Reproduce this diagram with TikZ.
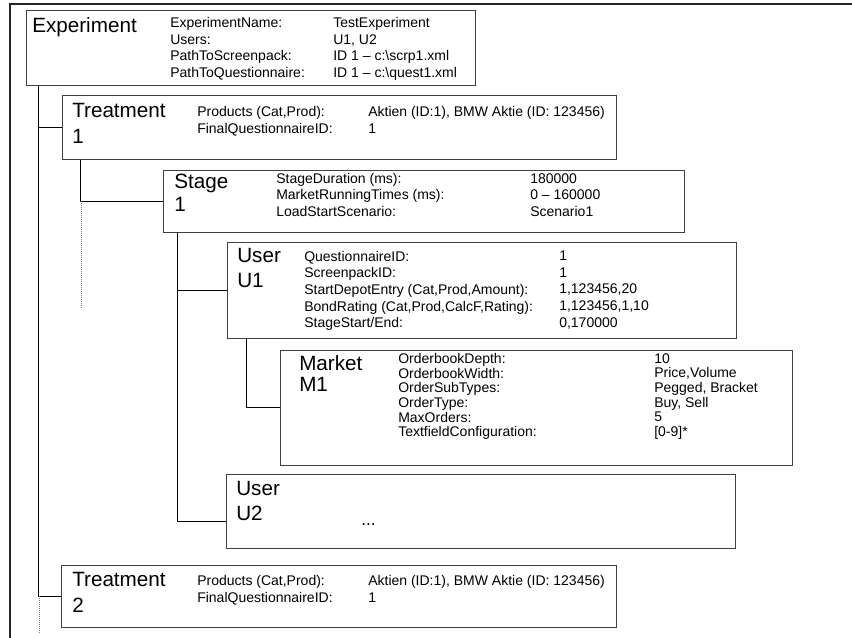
\documentclass[tikz,border=0pt]{standalone}
\usepackage{fontspec}
\setmainfont{Liberation Sans}
\usetikzlibrary{fit,calc}

\begin{document}
\begin{tikzpicture}
[x=0.75pt,y=-0.75pt,
box/.style = {draw=black!75, line width=0.75pt, inner sep=0pt},
ttl/.style = {anchor=north west, inner sep=0pt, align=left, font=\fontsize{15.5}{#1}\selectfont},
ttl/.default = 19,
lbl/.style = {anchor=north west, inner sep=0pt, align=left, font=\fontsize{10.5}{#1}\selectfont},
lbl/.default = 12.4,
tree/.style = {draw=black, line width=0.75pt},
dotline/.style = {draw=black!55, line width=0.75pt, dash pattern=on 0.75pt off 0.75pt},
]
\useasboundingbox (0,0) rectangle (852,638);
% window frame
\draw[line width=1.5pt, black!85] (852,4) -- (10,4) -- (10,638);

% boxes
\node[box, fit={(26,11) (475,86)}] (exp) {};
\node[box, fit={(62,96) (616,159)}] (tr1) {};
\node[box, fit={(163,170) (684,232)}] (stg) {};
\node[box, fit={(227,242) (736,338)}] (u1) {};
\node[box, fit={(280,350) (792,465)}] (mkt) {};
\node[box, fit={(226,474) (735,548)}] (u2) {};
\node[box, fit={(61,565) (616,627)}] (tr2) {};

% Experiment
\node[ttl] (expTtl) at (32,17.5) {Experiment};
\node[lbl=12.5] (expKey) at (170,17) {ExperimentName:\\Users:\\PathToScreenpack:\\PathToQuestionnaire:};
\node[lbl=12.5] (expVal) at (333,17) {TestExperiment\\U1, U2\\ID 1 \textendash{} c:\textbackslash scrp1.xml\\ID 1 \textendash{} c:\textbackslash quest1.xml};

% Treatment 1
\node[ttl=19.1] (tr1Ttl) at (72,103.5) {Treatment\\1};
\node[lbl=13] (tr1Key) at (197,106) {Products (Cat,Prod):\\FinalQuestionnaireID:};
\node[lbl=13] (tr1Val) at (368,106) {Aktien (ID:1), BMW Aktie (ID: 123456)\\1};

% Stage 1
\node[ttl=17.25] (stgTtl) at (174,173.5) {Stage\\1};
\node[lbl=12.4] (stgKey) at (276,173) {StageDuration (ms):\\MarketRunningTimes (ms):\\LoadStartScenario:};
\node[lbl=12.4] (stgVal) at (530,173) {180000\\0 \textendash{} 160000\\Scenario1};

% User U1
\node[ttl=18.75] (u1Ttl) at (237,248.5) {User\\U1};
\node[lbl=12.4] (u1Key) at (304,251) {QuestionnaireID:\\ScreenpackID:\\StartDepotEntry (Cat,Prod,Amount):\\BondRating (Cat,Prod,CalcF,Rating):\\StageStart/End:};
\node[lbl=12.4] (u1Val) at (559,251) {1\\1\\1,123456,20\\1,123456,1,10\\0,170000};

% Market M1
\node[ttl=15.75] (mktTtl) at (299,355.5) {Market\\M1};
\node[lbl=11] (mktKey) at (398,353) {OrderbookDepth:\\OrderbookWidth:\\OrderSubTypes:\\OrderType:\\MaxOrders:\\TextfieldConfiguration:};
\node[lbl=11] (mktVal) at (654,353) {10\\Price,Volume\\Pegged, Bracket\\Buy, Sell\\5\\{[0-9]*}};

% User U2
\node[ttl=18.75] (u2Ttl) at (236,481) {User\\U2};
\node[anchor=base west, inner sep=0pt, font=\fontsize{13}{15}\selectfont] (u2Dots) at (361,525) {...};

% Treatment 2
\node[ttl=19.1] (tr2Ttl) at (72,572.5) {Treatment\\2};
\node[lbl=13] (tr2Key) at (197,575) {Products (Cat,Prod):\\FinalQuestionnaireID:};
\node[lbl=13] (tr2Val) at (368,575) {Aktien (ID:1), BMW Aktie (ID: 123456)\\1};

% tree lines
\coordinate (expT) at ($(exp.south west)+(13,0)$);
\coordinate (expE) at (39,633);
\draw[tree] (expT) |- (tr1.west);
\draw[tree] (expT) |- (tr2.west);
\draw[dotline] (tr2.west -| expE) -- (expE);

\coordinate (tr1T) at ($(tr1.south west)+(19,0)$);
\coordinate (tr1E) at (81,308);
\draw[tree] (tr1T) |- (stg.west);
\draw[dotline] (stg.west -| tr1E) -- (tr1E);

\coordinate (stgT) at ($(stg.south west)+(15,0)$);
\draw[tree] (stgT) |- (u1.west);
\draw[tree] (stgT) |- ($(u2.west)+(0,10)$);

\coordinate (u1T) at ($(u1.south west)+(20,0)$);
\draw[tree] (u1T) |- (mkt.west);

\end{tikzpicture}
\end{document}
